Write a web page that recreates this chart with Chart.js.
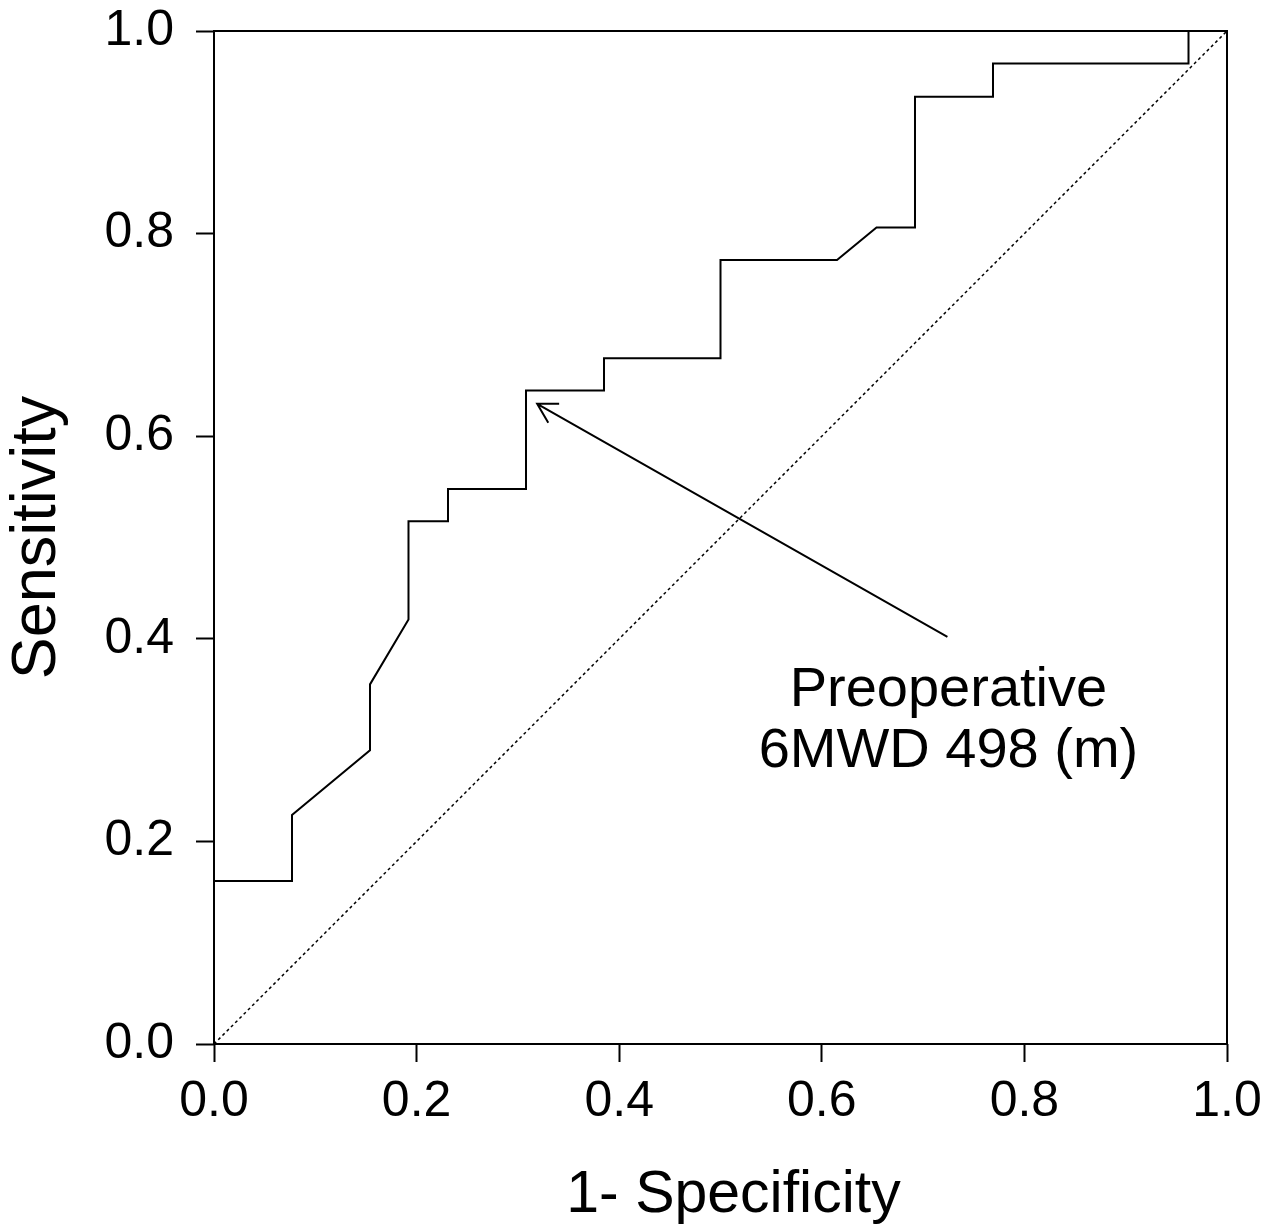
<!DOCTYPE html>
<html>
<head>
<meta charset="utf-8">
<title>ROC curve - preoperative 6MWD</title>
<script src="https://cdn.jsdelivr.net/npm/chart.js@4.4.1/dist/chart.umd.min.js"></script>
<style>
    html, body { margin: 0; padding: 0; background: #fff; }
    #wrap { width: 1273px; height: 1230px; }
</style>
</head>
<body>
<div id="wrap"><canvas id="roc" width="1273" height="1230"></canvas></div>
<script>

// ROC steps
var fpr = [0, 0, 0.077, 0.077, 0.154, 0.154, 0.192, 0.192, 0.231, 0.231, 0.308, 0.308, 0.385,
           0.385, 0.5, 0.5, 0.615, 0.654, 0.692, 0.692, 0.769, 0.769, 0.962, 0.962, 1];
var tpr = [0, 0.161, 0.161, 0.226, 0.29, 0.355, 0.419, 0.516, 0.516, 0.548, 0.548, 0.645, 0.645,
           0.677, 0.677, 0.774, 0.774, 0.806, 0.806, 0.935, 0.935, 0.968, 0.968, 1, 1];

// reference (chance) diagonal
var chanceX = [0, 1];
var chanceY = [0, 1];

var tickLabels = ['0.0', '0.2', '0.4', '0.6', '0.8', '1.0'];
var xTitle = '1- Specificity';
var yTitle = 'Sensitivity';

// cut-off annotation
var noteLines = ['Preoperative', '6MWD 498 (m)'];
var noteAt    = [0.725, 0.334];
var arrowFrom = [0.724, 0.402];
var arrowTo   = [0.319, 0.632];

var FONT = "'Liberation Sans', Arial, sans-serif";

var RocChart = {

    /**
     * init
     * @return {void}
     **/
    init: function () {

        Chart.defaults.font.family = FONT;
        Chart.defaults.color = '#000';

        this.chart = new Chart(document.getElementById('roc'), {
            type: 'scatter',
            data: {
                datasets: [
                    {
                        data: this.points(fpr, tpr),
                        showLine: true,
                        borderColor: '#000',
                        borderWidth: 2,
                        pointRadius: 0,
                        tension: 0
                    },
                    {
                        data: this.points(chanceX, chanceY),
                        showLine: true,
                        borderColor: '#000',
                        borderWidth: 1.5,
                        borderDash: [3, 3],
                        pointRadius: 0
                    }
                ]
            },
            options: {
                responsive: false,
                devicePixelRatio: 1,
                animation: false,
                layout: { padding: { top: 31, right: 46, left: 0, bottom: 0 } },
                plugins: { legend: { display: false }, tooltip: { enabled: false } },
                scales: {
                    x: this.axis(10, function (scale) {
                        scale.height = 186;
                        scale.paddingLeft = scale.paddingRight = 0;
                    }),
                    y: this.axis(22, function (scale) {
                        scale.width = 214;
                        //let the layout padding decide where the frame starts
                        scale.paddingTop = scale.paddingBottom = 0;
                    })
                }
            },
            plugins: [this.overlay]
        });
    },

    /**
     * points
     * @param  {Array} xs
     * @param  {Array} ys
     * @return {Array}
     **/
    points: function (xs, ys) {
        return xs.map(function (x, i) {
            return { x: x, y: ys[i] };
        });
    },

    /**
     * axis - shared scale options (titles are drawn by the overlay)
     * @return {Object}
     **/
    axis: function (pad, fit) {
        return {
            type: 'linear',
            min: 0,
            max: 1,
            ticks: {
                stepSize: 0.2,
                padding: pad,
                maxRotation: 0,
                font: { size: 50 },
                callback: function (v, i) { return tickLabels[i]; }
            },
            grid: {
                drawOnChartArea: false,
                tickLength: 18,
                tickWidth: 2,
                tickColor: '#000'
            },
            border: { display: false },
            afterFit: fit
        };
    },

    // frame, axis titles, arrow and label drawn on top of the plot
    overlay: {
        id: 'overlay',
        afterDraw: function (chart) {

            var ctx = chart.ctx, a = chart.chartArea,
                xs = chart.scales.x, ys = chart.scales.y,
                x1 = xs.getPixelForValue(arrowFrom[0]), y1 = ys.getPixelForValue(arrowFrom[1]),
                x2 = xs.getPixelForValue(arrowTo[0]), y2 = ys.getPixelForValue(arrowTo[1]),
                ang = Math.atan2(y1 - y2, x1 - x2), head = 22, spread = Math.PI / 6, i;

            ctx.save();
            ctx.strokeStyle = '#000';
            ctx.lineWidth = 2;
            ctx.strokeRect(a.left, a.top, a.right - a.left, a.bottom - a.top);

            ctx.beginPath();
            ctx.moveTo(x1, y1);
            ctx.lineTo(x2, y2);
            ctx.moveTo(x2 + head * Math.cos(ang - spread), y2 + head * Math.sin(ang - spread));
            ctx.lineTo(x2, y2);
            ctx.lineTo(x2 + head * Math.cos(ang + spread), y2 + head * Math.sin(ang + spread));
            ctx.stroke();

            ctx.fillStyle = '#000';
            ctx.textAlign = 'center';
            ctx.textBaseline = 'alphabetic';

            ctx.font = '56px ' + FONT;
            for (i = 0; i < noteLines.length; i++) {
                ctx.fillText(noteLines[i], xs.getPixelForValue(noteAt[0]), ys.getPixelForValue(noteAt[1]) + i * 61);
            }

            //axis titles
            ctx.font = '59px ' + FONT;
            ctx.fillText(xTitle, (a.left + a.right) / 2 + 13, chart.height - 18);

            ctx.font = '63px ' + FONT;
            ctx.translate(55, (a.top + a.bottom) / 2);
            ctx.rotate(-Math.PI / 2);
            ctx.fillText(yTitle, 0, 0);
            ctx.restore();
        }
    }
};

RocChart.init();
</script>
</body>
</html>
